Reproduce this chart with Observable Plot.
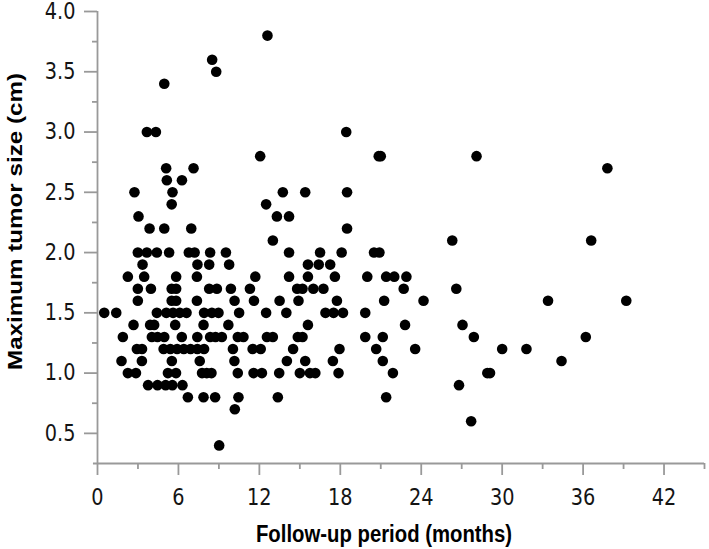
<!DOCTYPE html>
<html>
<head>
<meta charset="utf-8">
<script src="https://cdn.jsdelivr.net/npm/d3@7"></script>
<script src="https://cdn.jsdelivr.net/npm/@observablehq/plot@0.6"></script>
<style>
  html, body { margin: 0; padding: 0; background: #fff; }
  svg { overflow: visible; }
</style>
</head>
<body>
<div id="chart"></div>
<script>
// Maximum tumor size (cm) rows and the follow-up months of the patients in each row
const sizes = [3.8, 3.6, 3.5, 3.4, 3.0, 2.8, 2.7, 2.6, 2.5, 2.4, 2.3, 2.2, 2.1, 2.0, 1.9, 1.8, 1.7, 1.6, 1.5, 1.4, 1.3, 1.2, 1.1, 1.0, 0.9, 0.8, 0.7, 0.6, 0.4];
const monthsBySize = [
  [12.6],
  [8.5],
  [8.8],
  [4.95],
  [3.66, 4.33, 18.44],
  [12.06, 20.85, 21.0, 28.1],
  [5.09, 7.12, 37.8],
  [5.14, 6.26],
  [2.74, 5.56, 13.74, 15.4, 18.5],
  [5.5, 12.5],
  [3.04, 13.3, 14.2],
  [3.86, 4.95, 6.95, 18.5],
  [13.0, 26.3, 36.6],
  [2.99, 3.66, 4.4, 5.31, 6.77, 7.2, 8.35, 9.52, 14.2, 16.5, 18.1, 20.5, 20.9],
  [3.34, 7.41, 8.28, 9.76, 15.6, 16.4, 17.25],
  [2.25, 3.46, 5.83, 7.37, 11.7, 14.2, 15.6, 17.6, 20.0, 21.4, 22.0, 22.9],
  [2.99, 3.96, 5.5, 5.83, 8.28, 8.85, 9.89, 11.3, 14.8, 15.2, 16.0, 16.75, 22.7, 26.6],
  [2.99, 5.5, 5.83, 7.37, 10.16, 11.6, 13.5, 14.9, 17.75, 21.25, 24.17, 33.4, 39.2],
  [0.5, 1.39, 4.4, 5.1, 5.6, 6.1, 6.6, 7.9, 8.48, 8.97, 10.5, 12.5, 14.0, 16.9, 17.5, 18.2, 19.85],
  [2.67, 3.9, 4.2, 5.76, 7.86, 9.7, 15.6, 22.8, 27.06],
  [1.88, 4.03, 4.45, 4.95, 6.25, 7.4, 8.35, 8.75, 9.22, 10.4, 10.82, 12.56, 13.0, 14.85, 15.2, 19.85, 21.15, 27.9, 36.2],
  [2.92, 3.3, 4.9, 5.4, 5.9, 6.4, 6.9, 7.4, 7.9, 10.04, 11.5, 12.1, 14.5, 17.94, 20.66, 23.55, 30.0, 31.8],
  [1.78, 3.29, 5.51, 7.58, 10.15, 14.04, 15.4, 17.45, 21.15, 34.4],
  [2.25, 2.85, 5.22, 5.82, 7.75, 8.1, 8.45, 10.4, 11.57, 12.19, 13.47, 15.0, 15.75, 16.15, 17.87, 21.9, 28.9, 29.1],
  [3.75, 4.45, 5.05, 5.55, 6.3, 26.8],
  [6.7, 7.86, 8.72, 10.45, 13.37, 21.4],
  [10.18],
  [27.7],
  [9.02]
];

const xMajorTicks = [0, 6, 12, 18, 24, 30, 36, 42];
const xMinorTicks = [3, 9, 15, 21, 27, 33, 39, 45];
const yMajorTicks = [0.5, 1.0, 1.5, 2.0, 2.5, 3.0, 3.5, 4.0];
const yMinorTicks = [0.75, 1.25, 1.75, 2.25, 2.75, 3.25, 3.75];
const xTitle = "Follow-up period (months)";
const yTitle = "Maximum tumor size (cm)";

const points = sizes.flatMap((s, i) => monthsBySize[i].map(m => ({month: m, size: s})));

const axisColor = "#999";
const labelColor = "#141414";

const svg = Plot.plot({
  width: 709,
  height: 549,
  marginLeft: 97,
  marginRight: 5,
  marginTop: 11,
  marginBottom: 86,
  style: {background: "#fff", fontFamily: "DejaVu Sans", fontSize: "23px", overflow: "visible"},
  x: {domain: [0, 45]},
  y: {domain: [0.25, 4.0]},
  marks: [
    Plot.ruleY([0.25], {x1: -0.3, x2: 45, stroke: axisColor, strokeWidth: 1.8}),
    Plot.ruleX([0], {y1: 0.25, y2: 4.0, stroke: axisColor, strokeWidth: 1.8}),
    Plot.axisX(xMajorTicks, {tickSize: 12, tickPadding: 13, stroke: axisColor, strokeWidth: 1.8, fill: labelColor,
      fontSize: 23, fontFamily: "DejaVu Sans", label: null, tickFormat: d => String(d)}),
    Plot.axisX(xMinorTicks, {tickSize: 6, stroke: axisColor, strokeWidth: 1.8, fill: "none", label: null, tickFormat: () => ""}),
    Plot.axisY(yMajorTicks, {tickSize: 13, tickPadding: 9, stroke: axisColor, strokeWidth: 1.8, fill: labelColor,
      fontSize: 23, fontFamily: "DejaVu Sans", label: null, tickFormat: d3.format(".1f")}),
    Plot.axisY(yMinorTicks, {tickSize: 5, stroke: axisColor, strokeWidth: 1.8, fill: "none", label: null, tickFormat: () => ""}),
    Plot.dot(points, {x: "month", y: "size", r: 5.3, fill: "#000", stroke: "none"}),
    Plot.text([xTitle], {frameAnchor: "bottom", dx: -17, dy: 70.5, text: d => d, fontSize: 24.2, fontWeight: "bold",
      fontFamily: "Liberation Sans", fill: "#000", textAnchor: "middle", lineAnchor: "middle"}),
    Plot.text([yTitle], {frameAnchor: "left", dx: -82.5, dy: -16, rotate: -90, text: d => d, fontSize: 24.2, fontWeight: "bold",
      fontFamily: "Liberation Sans", fill: "#000", textAnchor: "middle", lineAnchor: "middle"})
  ]
});

// the reference is horizontally compressed: condense glyphs accordingly
const k = 0.84;
svg.querySelectorAll('g[aria-label="x-axis tick label"] text, g[aria-label="y-axis tick label"] text').forEach(t => {
  const tr = t.getAttribute("transform") || "";
  t.setAttribute("transform", tr + ` scale(${k},1)`);
});
svg.querySelectorAll('g[aria-label="text"] text').forEach(t => {
  const tr = t.getAttribute("transform") || "";
  if (t.textContent === xTitle) t.setAttribute("transform", tr + ` scale(${k},1)`);
  if (t.textContent === yTitle) t.setAttribute("transform", tr + ` scale(1,${k})`);
});

document.getElementById("chart").appendChild(svg);
</script>
</body>
</html>
